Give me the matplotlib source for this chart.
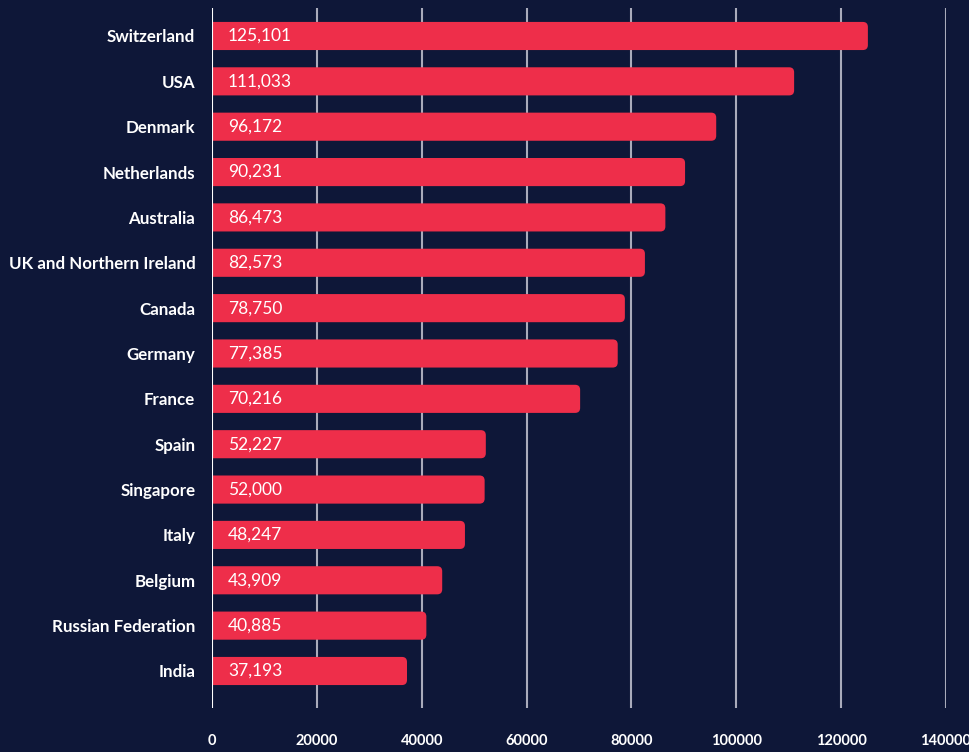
import matplotlib
matplotlib.use("Agg")
import matplotlib.pyplot as plt
from matplotlib.patches import FancyBboxPatch

countries = ["Switzerland", "USA", "Denmark", "Netherlands", "Australia",
             "UK and Northern Ireland", "Canada", "Germany", "France", "Spain",
             "Singapore", "Italy", "Belgium", "Russian Federation", "India"]
values = [125101, 111033, 96172, 90231, 86473, 82573, 78750, 77385,
          70216, 52227, 52000, 48247, 43909, 40885, 37193]
xticks = [0, 20000, 40000, 60000, 80000, 100000, 120000, 140000]

bg = "#0e1738"
red = "#ee2e4a"
plt.rcParams["font.family"] = ["Lato", "DejaVu Sans"]

fig = plt.figure(figsize=(9.7, 7.52), dpi=100, facecolor=bg)
ax = fig.add_axes([212 / 970, 1 - 708 / 752, 734 / 970, 700 / 752])
ax.set_facecolor(bg)
ax.set_xlim(0, 140000)
ax.set_ylim(14.816, -0.617)

# px -> data conversions for round corners
xpp = 140000 / 734
ypp = 15.433 / 700
r = 5 * xpp
h = 0.62

for x in xticks[1:]:
    ax.axvline(x, color="#a9abbb", lw=1.5, zorder=0)
ax.axvline(0, color="white", lw=1.5, zorder=3)

for i, (c, v) in enumerate(zip(countries, values)):
    p = FancyBboxPatch((-r * 2, i - h / 2), v + r * 2, h,
                       boxstyle=f"round,pad=0,rounding_size={r}",
                       mutation_aspect=ypp / xpp,
                       fc=red, ec="none", zorder=2)
    ax.add_patch(p)
    ax.text(16 * xpp, i, f"{v:,}", color="white", fontsize=12.5,
            va="center", ha="left", zorder=4)

ax.set_yticks(range(len(countries)))
ax.set_yticklabels(countries, color="white", fontsize=12.2, fontweight="bold")
ax.set_xticks(xticks)
ax.set_xticklabels([str(x) for x in xticks], color="white", fontsize=10.5,
                   fontweight="bold")
ax.tick_params(axis="y", length=0, pad=12)
ax.tick_params(axis="x", length=0, pad=19)
for s in ax.spines.values():
    s.set_visible(False)

fig.savefig("out.png", dpi=100, facecolor=bg)
